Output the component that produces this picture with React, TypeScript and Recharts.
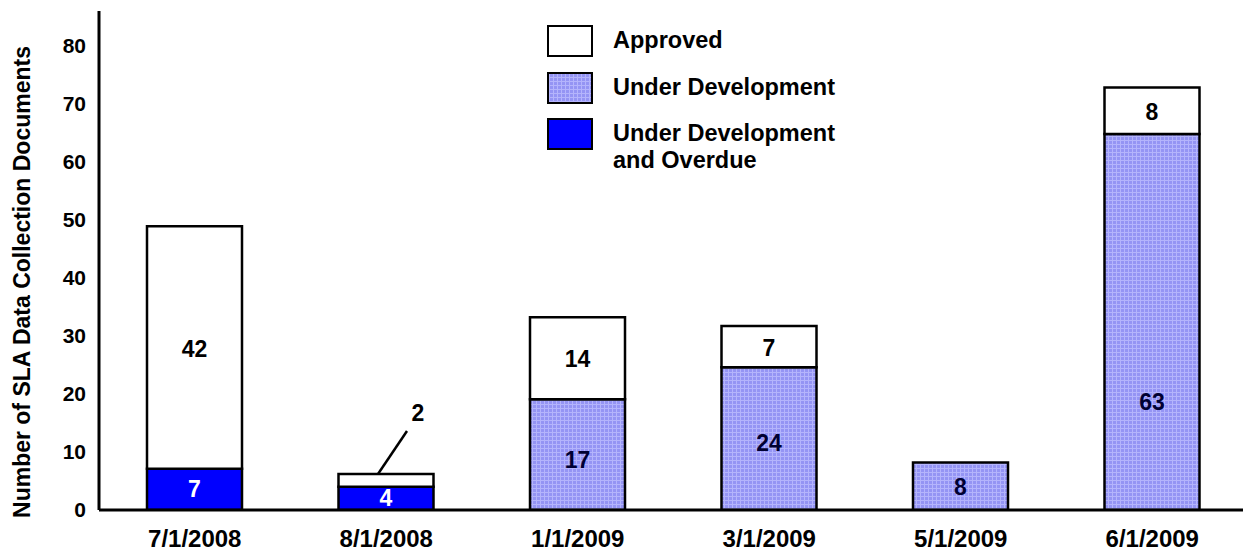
import React from 'react';
import { BarChart, Bar, XAxis, YAxis, LabelList, Label } from 'recharts';

const FONT = '"Liberation Sans", Arial, sans-serif';

// Categories and bar segment heights
const categories = ['7/1/2008', '8/1/2008', '1/1/2009', '3/1/2009', '5/1/2009', '6/1/2009'];
const overdue = [7.1, 4, 0, 0, 0, 0];
const underDev = [0, 0, 19.1, 24.6, 8.2, 64.8];
const approved = [41.8, 2.2, 14.1, 7.1, 0, 8];

// Printed labels (as shown on the chart)
const overdueLabels = ['7', '4', '', '', '', ''];
const underDevLabels = ['', '', '17', '24', '8', '63'];
const approvedLabels = ['42', '2', '14', '7', '', '8'];
// where the under-development label sits, in units above the bar bottom
const underDevLabelAt = [0, 0, 8.6, 11.5, 4, 18.6];

const yTicks = [0, 10, 20, 30, 40, 50, 60, 70, 80];

const data = categories.map((c, i) => ({
  name: c,
  overdue: overdue[i],
  underDev: underDev[i],
  approved: approved[i],
}));

const labelStyle = { fontFamily: FONT, fontWeight: 700, fontSize: 23 };

const box = (vb: any) => {
  const v = vb && vb.width !== undefined ? vb : {};
  return { x: Number(v.x), y: Number(v.y), w: Number(v.width), h: Number(v.height) };
};

// LabelList gets dataKey="name", so value is the category
const catIndex = (props: any) => categories.indexOf(String(props.value));

const OverdueLabel = (props: any) => {
  const i = catIndex(props);
  const t = overdueLabels[i];
  if (!t) return null;
  const { x, y, w, h } = box(props.viewBox ?? props);
  return (
    <text x={x + w / 2} y={y + h / 2} dy={8} textAnchor="middle" fill="#fff" style={labelStyle}>
      {t}
    </text>
  );
};

const UnderDevLabel = (props: any) => {
  const i = catIndex(props);
  const t = underDevLabels[i];
  if (!t) return null;
  const { x, y, w, h } = box(props.viewBox ?? props);
  const cy = y + h - (underDevLabelAt[i] / underDev[i]) * h;
  return (
    <text x={x + w / 2} y={cy} dy={8} textAnchor="middle" fill="#000033" style={labelStyle}>
      {t}
    </text>
  );
};

const ApprovedLabel = (props: any) => {
  const i = catIndex(props);
  const t = approvedLabels[i];
  if (!t) return null;
  const { x, y, w, h } = box(props.viewBox ?? props);
  const cx = x + w / 2;
  if (h < 25) {
    // small segment: callout with a leader line
    return (
      <g>
        <line x1={cx - 8} y1={y} x2={cx + 21} y2={y - 43} stroke="#000" strokeWidth={2.5} />
        <text x={cx + 32} y={y - 61} dy={8} textAnchor="middle" fill="#000" style={labelStyle}>
          {t}
        </text>
      </g>
    );
  }
  return (
    <text x={cx} y={y + h / 2} dy={9} textAnchor="middle" fill="#000" style={labelStyle}>
      {t}
    </text>
  );
};

const legendItems = [
  { label: ['Approved'], fill: '#ffffff' },
  { label: ['Under Development'], fill: 'pattern' },
  { label: ['Under Development', 'and Overdue'], fill: '#0000ff' },
];

const patternBg =
  'repeating-linear-gradient(0deg, #b4b4fc 0 1px, transparent 1px 4px), repeating-linear-gradient(90deg, #b4b4fc 0 1px, transparent 1px 4px), #9494f4';

const ChartLegend = () => (
  <div
    style={{
      position: 'absolute',
      left: 547,
      top: 25,
      fontFamily: FONT,
      fontWeight: 700,
      fontSize: 23.5,
      color: '#000',
    }}
  >
    {legendItems.map((it, i) => (
      <div key={i} style={{ display: 'flex', alignItems: 'flex-start', height: 32, marginBottom: 14.5 }}>
        <div
          style={{
            width: 46,
            height: 32,
            boxSizing: 'border-box',
            border: '2.5px solid #000',
            background: it.fill === 'pattern' ? patternBg : it.fill,
            flexShrink: 0,
          }}
        />
        <div style={{ marginLeft: 20, lineHeight: '27px', paddingTop: 2, whiteSpace: 'nowrap' }}>
          {it.label.map((l, j) => (
            <div key={j}>{l}</div>
          ))}
        </div>
      </div>
    ))}
  </div>
);

const YTitle = () => (
  <text
    transform="translate(30,282) rotate(-90)"
    textAnchor="middle"
    fill="#000"
    style={{ fontFamily: FONT, fontWeight: 700, fontSize: 23 }}
  >
    Number of SLA Data Collection Documents
  </text>
);

export default function App() {
  return (
    <div
      style={{
        position: 'absolute',
        left: 0,
        top: 0,
        width: 1243,
        height: 552,
        overflow: 'hidden',
        background: '#fff',
      }}
    >
      <BarChart
        width={1250}
        height={552}
        data={data}
        margin={{ top: 11, right: 2, left: 39, bottom: 12 }}
        barCategoryGap={0}
      >
        <defs>
          <pattern id="devFill" width="4" height="4" patternUnits="userSpaceOnUse">
            <rect width="4" height="4" fill="#9494f4" />
            <path d="M0 0.5H4M0.5 0V4" stroke="#b4b4fc" strokeWidth="1" />
          </pattern>
        </defs>
        <XAxis
          dataKey="name"
          axisLine={{ stroke: '#000', strokeWidth: 3 }}
          tickLine={false}
          height={30}
          tickMargin={14}
          tick={{ fill: '#000', fontFamily: FONT, fontWeight: 700, fontSize: 24 }}
        />
        <YAxis
          domain={[0, 86]}
          ticks={yTicks}
          allowDataOverflow
          width={60}
          axisLine={{ stroke: '#000', strokeWidth: 3 }}
          tickLine={false}
          tickMargin={7}
          tick={{ fill: '#000', fontFamily: FONT, fontWeight: 700, fontSize: 21 }}
        >
          <Label content={<YTitle />} />
        </YAxis>
        <Bar dataKey="overdue" stackId="a" fill="#0000ff" stroke="#000" strokeWidth={2.5} barSize={95} isAnimationActive={false}>
          <LabelList dataKey="name" content={<OverdueLabel />} />
        </Bar>
        <Bar dataKey="underDev" stackId="a" fill="url(#devFill)" stroke="#000" strokeWidth={2.5} barSize={95} isAnimationActive={false}>
          <LabelList dataKey="name" content={<UnderDevLabel />} />
        </Bar>
        <Bar dataKey="approved" stackId="a" fill="#ffffff" stroke="#000" strokeWidth={2.5} barSize={95} isAnimationActive={false}>
          <LabelList dataKey="name" content={<ApprovedLabel />} />
        </Bar>
      </BarChart>
      <ChartLegend />
    </div>
  );
}
